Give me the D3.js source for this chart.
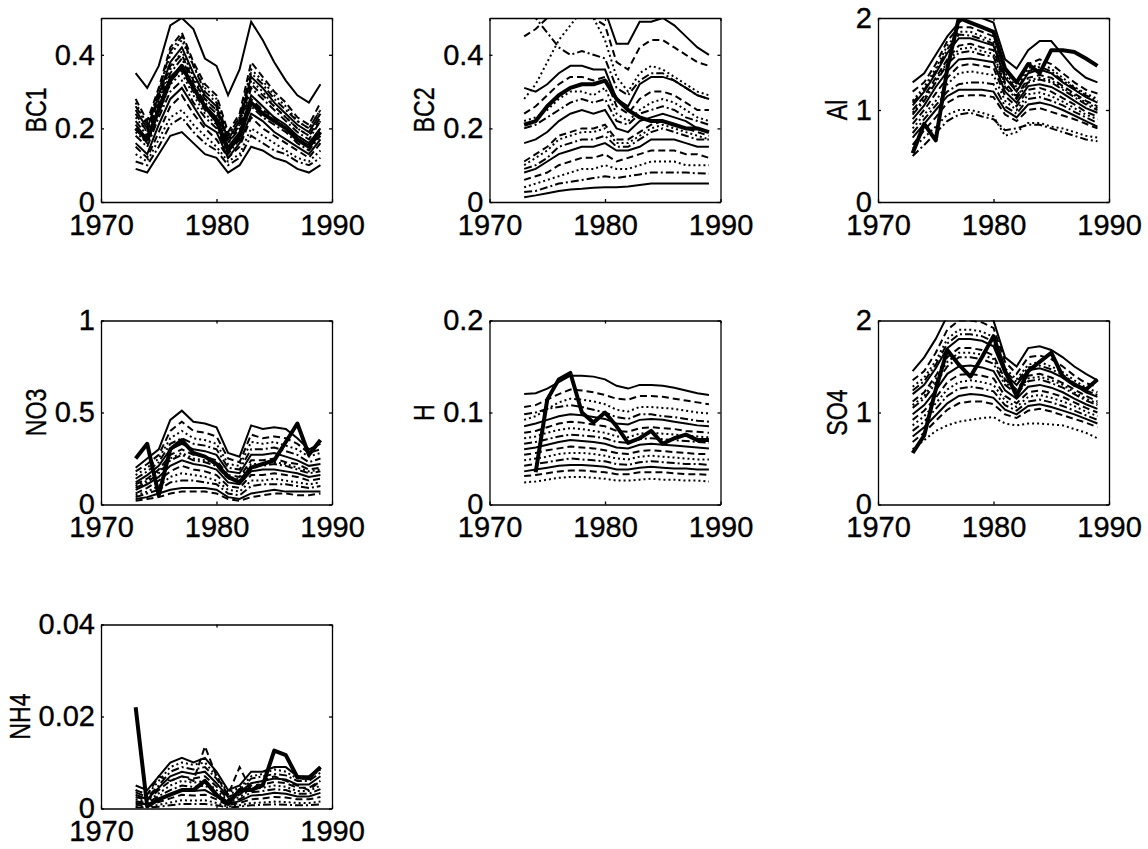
<!DOCTYPE html>
<html>
<head>
<meta charset="utf-8">
<script src="https://cdn.jsdelivr.net/npm/d3@7"></script>
<style>
  body { margin: 0; background: #fff; }
  text { font-family: "Liberation Sans", Arial, Helvetica, sans-serif; fill: #000; stroke: #000; stroke-width: 0.35px; }
</style>
</head>
<body>
<div id="main"></div>
<script>
const ctx = {
    w: 1148,
    h: 849,
    colLeft: [101, 489.5, 878],
    rowTop: [18, 320.5, 624.5],
    pw: 231,
    ph: 184,
    fontSize: 29,
};

// years of the runs
const years = [1973, 1974, 1975, 1976, 1977, 1978, 1979, 1980, 1981, 1982, 1983, 1984, 1985, 1986, 1987, 1988, 1989];
const xDomain = [1970, 1990];
const xTicks = [1970, 1980, 1990];

const panelLabels = ["BC1", "BC2", "Al", "NO3", "H", "SO4", "NH4"];
const yDomains = [[0, 0.5], [0, 0.5], [0, 2], [0, 1], [0, 0.2], [0, 2], [0, 0.04]];
const yTicks = [[0, 0.2, 0.4], [0, 0.2, 0.4], [0, 1, 2], [0, 0.5, 1], [0, 0.1, 0.2], [0, 1, 2], [0, 0.02, 0.04]];

// BC1
const bc1Runs = [
    [0.35,0.31,0.37,0.48,0.50,0.47,0.39,0.37,0.29,0.36,0.49,0.44,0.38,0.33,0.29,0.27,0.32],
    [0.28,0.22,0.31,0.42,0.46,0.38,0.32,0.29,0.19,0.24,0.38,0.34,0.30,0.27,0.23,0.21,0.27],
    [0.27,0.21,0.30,0.40,0.44,0.37,0.31,0.28,0.18,0.23,0.36,0.33,0.29,0.26,0.22,0.20,0.25],
    [0.26,0.21,0.30,0.41,0.45,0.37,0.30,0.27,0.18,0.23,0.35,0.32,0.28,0.25,0.22,0.20,0.25],
    [0.25,0.20,0.29,0.38,0.42,0.35,0.29,0.26,0.17,0.22,0.34,0.31,0.27,0.24,0.21,0.19,0.24],
    [0.24,0.19,0.28,0.37,0.40,0.33,0.28,0.25,0.16,0.21,0.32,0.29,0.26,0.23,0.20,0.18,0.23],
    [0.23,0.19,0.28,0.36,0.41,0.34,0.28,0.25,0.17,0.21,0.33,0.30,0.26,0.23,0.20,0.18,0.22],
    [0.22,0.18,0.27,0.35,0.39,0.32,0.27,0.24,0.16,0.20,0.31,0.28,0.25,0.22,0.19,0.17,0.22],
    [0.21,0.17,0.26,0.34,0.37,0.31,0.26,0.23,0.15,0.19,0.29,0.26,0.23,0.21,0.18,0.16,0.20],
    [0.20,0.16,0.25,0.33,0.36,0.30,0.25,0.22,0.15,0.18,0.28,0.25,0.23,0.20,0.18,0.16,0.20],
    [0.19,0.16,0.24,0.32,0.35,0.29,0.24,0.21,0.14,0.18,0.27,0.25,0.22,0.20,0.17,0.15,0.19],
    [0.18,0.15,0.23,0.30,0.33,0.27,0.23,0.20,0.13,0.17,0.26,0.23,0.21,0.19,0.16,0.14,0.18],
    [0.16,0.13,0.21,0.28,0.31,0.26,0.21,0.19,0.12,0.16,0.24,0.22,0.19,0.17,0.15,0.13,0.17],
    [0.15,0.12,0.19,0.26,0.29,0.24,0.20,0.17,0.12,0.15,0.23,0.20,0.18,0.16,0.14,0.12,0.16],
    [0.13,0.11,0.17,0.23,0.25,0.21,0.18,0.15,0.11,0.13,0.20,0.18,0.16,0.14,0.12,0.11,0.14],
    [0.11,0.10,0.15,0.21,0.23,0.19,0.16,0.14,0.10,0.12,0.18,0.16,0.14,0.13,0.11,0.10,0.12],
    [0.09,0.08,0.13,0.18,0.19,0.16,0.13,0.12,0.08,0.10,0.15,0.14,0.12,0.11,0.09,0.08,0.10],
];
const bc1Obs = [0.20,0.17,0.25,0.33,0.37,0.31,0.26,0.22,0.14,0.18,0.27,0.24,0.22,0.20,0.17,0.15,0.19];

// BC2
const bc2Runs = [
    [0.62,0.60,0.58,0.56,0.55,0.54,0.52,0.52,0.43,0.43,0.49,0.49,0.50,0.48,0.45,0.42,0.40],
    [0.45,0.47,0.50,0.52,0.53,0.52,0.50,0.48,0.38,0.36,0.42,0.44,0.44,0.42,0.40,0.38,0.37],
    [0.28,0.32,0.38,0.44,0.48,0.52,0.50,0.44,0.34,0.30,0.35,0.37,0.36,0.34,0.32,0.30,0.29],
    [0.55,0.50,0.46,0.42,0.40,0.41,0.40,0.39,0.31,0.29,0.33,0.35,0.35,0.33,0.31,0.29,0.28],
    [0.31,0.30,0.32,0.35,0.37,0.37,0.36,0.36,0.28,0.26,0.32,0.34,0.34,0.33,0.31,0.29,0.28],
    [0.24,0.26,0.29,0.32,0.34,0.34,0.33,0.34,0.26,0.24,0.28,0.30,0.30,0.29,0.27,0.25,0.25],
    [0.22,0.23,0.25,0.28,0.30,0.30,0.29,0.31,0.24,0.22,0.25,0.27,0.28,0.27,0.25,0.23,0.22],
    [0.20,0.21,0.23,0.25,0.27,0.28,0.27,0.28,0.22,0.21,0.24,0.25,0.26,0.25,0.23,0.22,0.21],
    [0.16,0.17,0.19,0.22,0.24,0.25,0.24,0.25,0.20,0.19,0.22,0.23,0.24,0.23,0.22,0.20,0.19],
    [0.11,0.13,0.15,0.18,0.19,0.20,0.20,0.21,0.17,0.17,0.19,0.21,0.22,0.21,0.20,0.19,0.18],
    [0.10,0.12,0.14,0.17,0.18,0.19,0.19,0.20,0.16,0.16,0.18,0.20,0.21,0.20,0.19,0.18,0.17],
    [0.09,0.10,0.12,0.15,0.16,0.17,0.17,0.18,0.15,0.15,0.17,0.19,0.20,0.19,0.18,0.17,0.17],
    [0.08,0.09,0.11,0.13,0.14,0.15,0.15,0.16,0.14,0.14,0.15,0.17,0.17,0.17,0.16,0.15,0.15],
    [0.06,0.07,0.08,0.10,0.11,0.12,0.12,0.13,0.11,0.12,0.13,0.14,0.14,0.14,0.13,0.13,0.12],
    [0.04,0.05,0.06,0.07,0.08,0.09,0.09,0.10,0.09,0.09,0.10,0.11,0.11,0.11,0.10,0.10,0.10],
    [0.027,0.03,0.04,0.05,0.055,0.06,0.065,0.07,0.065,0.07,0.075,0.08,0.08,0.08,0.08,0.078,0.077],
    [0.013,0.018,0.024,0.03,0.034,0.036,0.039,0.04,0.04,0.042,0.046,0.05,0.05,0.05,0.05,0.05,0.05],
];
const bc2Obs = [0.21,0.22,0.26,0.29,0.31,0.32,0.32,0.33,0.28,0.25,0.23,0.22,0.22,0.21,0.20,0.20,0.19];

// Al
const alRuns = [
    [1.30,1.40,1.60,1.80,1.95,2.05,2.00,1.95,1.55,1.45,1.65,1.75,1.75,1.60,1.45,1.35,1.30],
    [1.20,1.30,1.50,1.75,1.90,1.90,1.85,1.80,1.45,1.30,1.50,1.55,1.50,1.40,1.30,1.22,1.18],
    [1.10,1.25,1.45,1.70,1.85,1.85,1.80,1.75,1.40,1.25,1.45,1.50,1.45,1.35,1.25,1.18,1.12],
    [1.08,1.22,1.42,1.66,1.82,1.81,1.77,1.72,1.38,1.22,1.42,1.47,1.42,1.32,1.24,1.16,1.10],
    [1.05,1.20,1.40,1.62,1.78,1.78,1.74,1.70,1.35,1.20,1.40,1.44,1.40,1.30,1.22,1.14,1.08],
    [1.00,1.15,1.35,1.55,1.70,1.72,1.68,1.65,1.30,1.15,1.35,1.38,1.35,1.26,1.18,1.10,1.04],
    [0.97,1.12,1.32,1.52,1.66,1.68,1.64,1.61,1.28,1.14,1.32,1.35,1.32,1.24,1.16,1.08,1.02],
    [0.95,1.10,1.30,1.50,1.62,1.64,1.60,1.58,1.25,1.12,1.30,1.33,1.30,1.22,1.14,1.06,1.00],
    [0.90,1.05,1.25,1.42,1.55,1.56,1.54,1.52,1.20,1.08,1.26,1.28,1.25,1.18,1.10,1.02,0.97],
    [0.85,1.00,1.18,1.35,1.48,1.50,1.48,1.46,1.15,1.04,1.22,1.24,1.20,1.13,1.06,0.98,0.93],
    [0.80,0.95,1.10,1.28,1.40,1.42,1.40,1.38,1.10,1.00,1.17,1.19,1.15,1.09,1.02,0.95,0.90],
    [0.75,0.90,1.05,1.20,1.28,1.30,1.30,1.28,1.04,0.96,1.12,1.14,1.10,1.05,0.98,0.92,0.86],
    [0.70,0.85,1.00,1.15,1.22,1.22,1.22,1.20,1.00,0.92,1.06,1.08,1.05,1.00,0.94,0.88,0.82],
    [0.62,0.78,0.92,1.08,1.15,1.16,1.16,1.14,0.95,0.88,1.00,1.02,0.98,0.94,0.90,0.85,0.80],
    [0.58,0.70,0.82,0.95,1.00,1.00,0.97,0.93,0.72,0.76,0.86,0.86,0.82,0.80,0.76,0.72,0.70],
    [0.50,0.62,0.75,0.88,0.95,0.97,0.93,0.90,0.78,0.80,0.84,0.84,0.80,0.76,0.72,0.68,0.66],
];
const alObs = [0.53,0.85,0.67,1.45,2.00,1.95,1.90,1.85,1.45,1.30,1.50,1.40,1.65,1.65,1.63,1.56,1.48];

// NO3
const no3Runs = [
    [0.20,0.25,0.30,0.46,0.51,0.45,0.44,0.42,0.28,0.26,0.43,0.41,0.42,0.41,0.36,0.30,0.33],
    [0.18,0.22,0.27,0.40,0.45,0.40,0.39,0.37,0.25,0.23,0.38,0.36,0.37,0.36,0.33,0.28,0.30],
    [0.16,0.20,0.25,0.36,0.40,0.36,0.35,0.33,0.22,0.21,0.34,0.33,0.34,0.32,0.30,0.26,0.28],
    [0.14,0.18,0.23,0.33,0.36,0.33,0.32,0.30,0.20,0.19,0.30,0.30,0.31,0.29,0.27,0.23,0.25],
    [0.12,0.16,0.21,0.30,0.33,0.30,0.29,0.27,0.18,0.17,0.27,0.27,0.28,0.26,0.24,0.21,0.22],
    [0.11,0.14,0.19,0.27,0.30,0.27,0.26,0.24,0.16,0.15,0.24,0.24,0.25,0.23,0.22,0.19,0.20],
    [0.10,0.13,0.18,0.25,0.28,0.25,0.24,0.22,0.15,0.14,0.22,0.22,0.23,0.22,0.20,0.18,0.19],
    [0.09,0.12,0.17,0.24,0.27,0.24,0.23,0.21,0.14,0.13,0.21,0.21,0.22,0.21,0.19,0.17,0.18],
    [0.08,0.11,0.15,0.21,0.24,0.22,0.21,0.19,0.12,0.11,0.18,0.19,0.19,0.18,0.17,0.15,0.16],
    [0.06,0.09,0.13,0.18,0.21,0.19,0.18,0.16,0.10,0.09,0.16,0.16,0.17,0.16,0.15,0.13,0.14],
    [0.05,0.07,0.10,0.15,0.17,0.16,0.15,0.13,0.08,0.07,0.13,0.13,0.14,0.13,0.12,0.11,0.12],
    [0.04,0.06,0.08,0.12,0.13,0.13,0.12,0.11,0.06,0.05,0.10,0.11,0.11,0.11,0.10,0.09,0.10],
    [0.03,0.04,0.06,0.08,0.09,0.09,0.09,0.08,0.04,0.03,0.06,0.07,0.08,0.07,0.07,0.07,0.07],
    [0.02,0.03,0.04,0.06,0.07,0.07,0.07,0.06,0.03,0.02,0.04,0.05,0.06,0.06,0.05,0.05,0.06],
];
const no3Obs = [0.25,0.33,0.05,0.30,0.35,0.28,0.26,0.22,0.15,0.12,0.20,0.22,0.24,0.34,0.44,0.27,0.35];

// H
const hRuns = [
    [0.120,0.121,0.126,0.133,0.140,0.140,0.139,0.136,0.129,0.126,0.130,0.130,0.129,0.127,0.124,0.121,0.119],
    [0.106,0.108,0.114,0.120,0.125,0.124,0.122,0.119,0.115,0.114,0.118,0.118,0.117,0.115,0.113,0.111,0.109],
    [0.092,0.096,0.104,0.111,0.115,0.114,0.112,0.109,0.103,0.101,0.106,0.106,0.105,0.104,0.102,0.100,0.099],
    [0.098,0.100,0.104,0.106,0.108,0.106,0.103,0.100,0.095,0.093,0.098,0.098,0.096,0.095,0.093,0.091,0.090],
    [0.085,0.088,0.092,0.096,0.098,0.097,0.095,0.093,0.088,0.087,0.092,0.093,0.092,0.090,0.088,0.086,0.085],
    [0.078,0.080,0.084,0.088,0.090,0.089,0.087,0.085,0.080,0.079,0.083,0.084,0.083,0.082,0.080,0.079,0.078],
    [0.072,0.074,0.078,0.081,0.083,0.082,0.080,0.078,0.074,0.073,0.077,0.078,0.077,0.076,0.075,0.074,0.073],
    [0.066,0.068,0.071,0.074,0.076,0.075,0.074,0.072,0.068,0.067,0.071,0.072,0.071,0.070,0.069,0.068,0.067],
    [0.060,0.062,0.065,0.068,0.070,0.069,0.068,0.066,0.062,0.061,0.065,0.066,0.065,0.064,0.063,0.062,0.061],
    [0.054,0.056,0.059,0.061,0.063,0.062,0.061,0.059,0.056,0.055,0.058,0.059,0.058,0.057,0.056,0.055,0.055],
    [0.048,0.050,0.052,0.055,0.056,0.056,0.055,0.053,0.050,0.049,0.052,0.053,0.052,0.051,0.050,0.049,0.049],
    [0.042,0.044,0.046,0.048,0.050,0.049,0.048,0.047,0.044,0.043,0.046,0.047,0.046,0.045,0.044,0.044,0.043],
    [0.036,0.038,0.040,0.042,0.043,0.043,0.042,0.041,0.038,0.038,0.040,0.041,0.040,0.039,0.039,0.038,0.038],
    [0.031,0.032,0.034,0.036,0.037,0.037,0.036,0.035,0.033,0.033,0.035,0.035,0.035,0.034,0.033,0.033,0.032],
    [0.024,0.025,0.027,0.029,0.030,0.030,0.029,0.028,0.026,0.026,0.027,0.028,0.027,0.027,0.026,0.026,0.025],
];
const hObs = [null,0.035,0.114,0.136,0.143,0.100,0.089,0.100,0.085,0.067,0.072,0.080,0.066,0.072,0.076,0.070,0.070];

// SO4
const so4Runs = [
    [1.45,1.60,1.80,2.05,2.15,2.10,2.05,2.00,1.60,1.50,1.70,1.72,1.68,1.60,1.50,1.42,1.35],
    [1.35,1.45,1.65,1.90,2.00,2.00,1.98,1.92,1.55,1.42,1.60,1.62,1.58,1.50,1.40,1.32,1.28],
    [1.28,1.38,1.56,1.80,1.90,1.90,1.88,1.82,1.48,1.36,1.52,1.55,1.50,1.44,1.35,1.27,1.22],
    [1.24,1.34,1.52,1.75,1.85,1.85,1.83,1.77,1.45,1.33,1.49,1.51,1.47,1.41,1.32,1.24,1.19],
    [1.20,1.30,1.48,1.70,1.80,1.80,1.78,1.72,1.42,1.30,1.46,1.48,1.44,1.38,1.30,1.22,1.17],
    [1.12,1.22,1.40,1.60,1.70,1.70,1.68,1.62,1.36,1.25,1.40,1.42,1.38,1.32,1.25,1.18,1.12],
    [1.08,1.18,1.36,1.55,1.65,1.65,1.63,1.58,1.33,1.22,1.37,1.39,1.35,1.30,1.22,1.15,1.10],
    [1.05,1.15,1.32,1.50,1.60,1.60,1.58,1.53,1.30,1.20,1.34,1.36,1.32,1.27,1.20,1.13,1.08],
    [0.98,1.08,1.24,1.42,1.50,1.51,1.49,1.45,1.24,1.15,1.28,1.30,1.27,1.22,1.15,1.09,1.04],
    [0.92,1.02,1.16,1.33,1.41,1.42,1.40,1.37,1.18,1.10,1.22,1.24,1.21,1.17,1.11,1.05,1.00],
    [0.86,0.96,1.10,1.25,1.33,1.35,1.33,1.30,1.13,1.06,1.17,1.19,1.16,1.12,1.07,1.01,0.96],
    [0.80,0.90,1.04,1.18,1.26,1.28,1.26,1.23,1.08,1.02,1.12,1.14,1.11,1.07,1.02,0.97,0.92],
    [0.74,0.84,0.97,1.10,1.18,1.20,1.19,1.16,1.03,0.98,1.07,1.09,1.06,1.02,0.98,0.93,0.88],
    [0.68,0.78,0.91,1.03,1.10,1.12,1.12,1.09,0.98,0.94,1.02,1.04,1.01,0.97,0.93,0.89,0.84],
    [0.60,0.70,0.80,0.86,0.90,0.92,0.94,0.95,0.88,0.86,0.88,0.88,0.87,0.86,0.82,0.78,0.72],
];
const so4Obs = [0.56,0.75,1.25,1.68,1.52,1.39,1.60,1.83,1.45,1.18,1.45,1.55,1.65,1.39,1.30,1.25,1.36];

// NH4
const nh4Runs = [
    [0.0050,0.0040,0.0070,0.0100,0.0110,0.0100,0.0110,0.0080,0.0040,0.0050,0.0080,0.0080,0.0090,0.0090,0.0070,0.0070,0.0090],
    [0.0040,0.0030,0.0070,0.0060,0.0070,0.0060,0.0135,0.0070,0.0030,0.0090,0.0040,0.0060,0.0070,0.0060,0.0050,0.0040,0.0060],
    [0.0040,0.0030,0.0060,0.0090,0.0100,0.0095,0.0100,0.0070,0.0035,0.0045,0.0070,0.0075,0.0085,0.0080,0.0065,0.0065,0.0085],
    [0.0035,0.0025,0.0050,0.0080,0.0090,0.0085,0.0090,0.0065,0.0030,0.0040,0.0065,0.0070,0.0075,0.0072,0.0060,0.0060,0.0078],
    [0.0030,0.0020,0.0045,0.0070,0.0080,0.0075,0.0080,0.0055,0.0025,0.0035,0.0055,0.0060,0.0065,0.0063,0.0052,0.0052,0.0070],
    [0.0025,0.0018,0.0040,0.0060,0.0070,0.0065,0.0070,0.0048,0.0020,0.0030,0.0050,0.0052,0.0058,0.0055,0.0045,0.0045,0.0060],
    [0.0020,0.0015,0.0033,0.0050,0.0060,0.0056,0.0060,0.0040,0.0017,0.0025,0.0042,0.0045,0.0050,0.0047,0.0038,0.0038,0.0050],
    [0.0016,0.0012,0.0027,0.0040,0.0050,0.0047,0.0050,0.0033,0.0014,0.0020,0.0035,0.0038,0.0042,0.0040,0.0032,0.0032,0.0042],
    [0.0012,0.0009,0.0020,0.0030,0.0040,0.0038,0.0040,0.0026,0.0010,0.0016,0.0028,0.0030,0.0034,0.0032,0.0026,0.0026,0.0034],
    [0.0008,0.0006,0.0014,0.0022,0.0030,0.0028,0.0030,0.0020,0.0007,0.0012,0.0020,0.0022,0.0025,0.0024,0.0020,0.0020,0.0025],
    [0.0004,0.0003,0.0008,0.0013,0.0018,0.0017,0.0018,0.0012,0.0004,0.0007,0.0012,0.0013,0.0015,0.0014,0.0012,0.0012,0.0015],
    [0.0002,0.0002,0.0004,0.0007,0.0010,0.0010,0.0010,0.0007,0.0002,0.0004,0.0007,0.0008,0.0009,0.0008,0.0007,0.0007,0.0009],
];
const nh4Obs = [0.0220,0.0005,0.0020,0.0030,0.0040,0.0040,0.0060,0.0030,0.0010,0.0040,0.0040,0.0050,0.0126,0.0116,0.0068,0.0066,0.0090];

const allRuns = [bc1Runs, bc2Runs, alRuns, no3Runs, hRuns, so4Runs, nh4Runs];
const allObs = [bc1Obs, bc2Obs, alObs, no3Obs, hObs, so4Obs, nh4Obs];

// matlab line styles: -  --  :  -.
const dashes = [null, "7,4", "2,3", "8,3,2,3"];

function drawPanel(svg, i) {
    const x0 = ctx.colLeft[i % 3];
    const y0 = ctx.rowTop[Math.floor(i / 3)];
    const x = d3.scaleLinear().domain(xDomain).range([x0, x0 + ctx.pw]);
    const y = d3.scaleLinear().domain(yDomains[i]).range([y0 + ctx.ph, y0]);

    const g = svg.append("g");
    g.append("clipPath").attr("id", "clip" + i)
        .append("rect")
        .attr("x", x0).attr("y", y0)
        .attr("width", ctx.pw).attr("height", ctx.ph);

    const line = d3.line()
        .defined(v => v != null)
        .x((v, j) => x(years[j]))
        .y(v => y(v));

    const lg = g.append("g").attr("clip-path", `url(#clip${i})`);
    allRuns[i].forEach((s, k) => {
        lg.append("path")
            .attr("d", line(s))
            .attr("fill", "none")
            .attr("stroke", "#000")
            .attr("stroke-width", 2)
            .attr("stroke-dasharray", dashes[k % 4]);
    });
    lg.append("path")
        .attr("d", line(allObs[i]))
        .attr("fill", "none")
        .attr("stroke", "#000")
        .attr("stroke-width", 4)
        .attr("stroke-linejoin", "round");

    // axes, ticks pointing inward on all four sides
    const fmt = d => String(d);
    const bottom = g.append("g")
        .attr("transform", `translate(0,${y0 + ctx.ph})`)
        .call(d3.axisBottom(x).tickValues(xTicks).tickFormat(fmt).tickSizeInner(-3).tickSizeOuter(0).tickPadding(12));
    const left = g.append("g")
        .attr("transform", `translate(${x0},0)`)
        .call(d3.axisLeft(y).tickValues(yTicks[i]).tickFormat(fmt).tickSizeInner(-3).tickSizeOuter(0).tickPadding(6));
    g.append("g")
        .attr("transform", `translate(0,${y0})`)
        .call(d3.axisTop(x).tickValues(xTicks).tickFormat("").tickSizeInner(-3).tickSizeOuter(0));
    g.append("g")
        .attr("transform", `translate(${x0 + ctx.pw},0)`)
        .call(d3.axisRight(y).tickValues(yTicks[i]).tickFormat("").tickSizeInner(-3).tickSizeOuter(0));

    g.selectAll(".domain, .tick line").attr("stroke", "#000").attr("stroke-width", 1.3);
    [bottom, left].forEach(a => a.attr("font-size", null).attr("font-family", null)
        .selectAll("text").style("font-size", ctx.fontSize + "px").attr("fill", "#000"));

    // y label, left of the widest tick label (squeezed along its length like the print)
    let maxW = 0;
    left.selectAll("text").each(function () { maxW = Math.max(maxW, this.getBBox().width); });
    const lx = x0 - 6 - maxW - 9;
    g.append("text")
        .attr("transform", `translate(${lx},${y0 + ctx.ph / 2}) rotate(-90) scale(0.8,1)`)
        .attr("text-anchor", "middle")
        .style("font-size", ctx.fontSize + "px")
        .text(panelLabels[i]);
}

function createViz() {
    const svg = d3.select("#main").append("svg")
        .attr("width", ctx.w)
        .attr("height", ctx.h);
    for (let i = 0; i < panelLabels.length; i++) drawPanel(svg, i);
}

createViz();
</script>
</body>
</html>
